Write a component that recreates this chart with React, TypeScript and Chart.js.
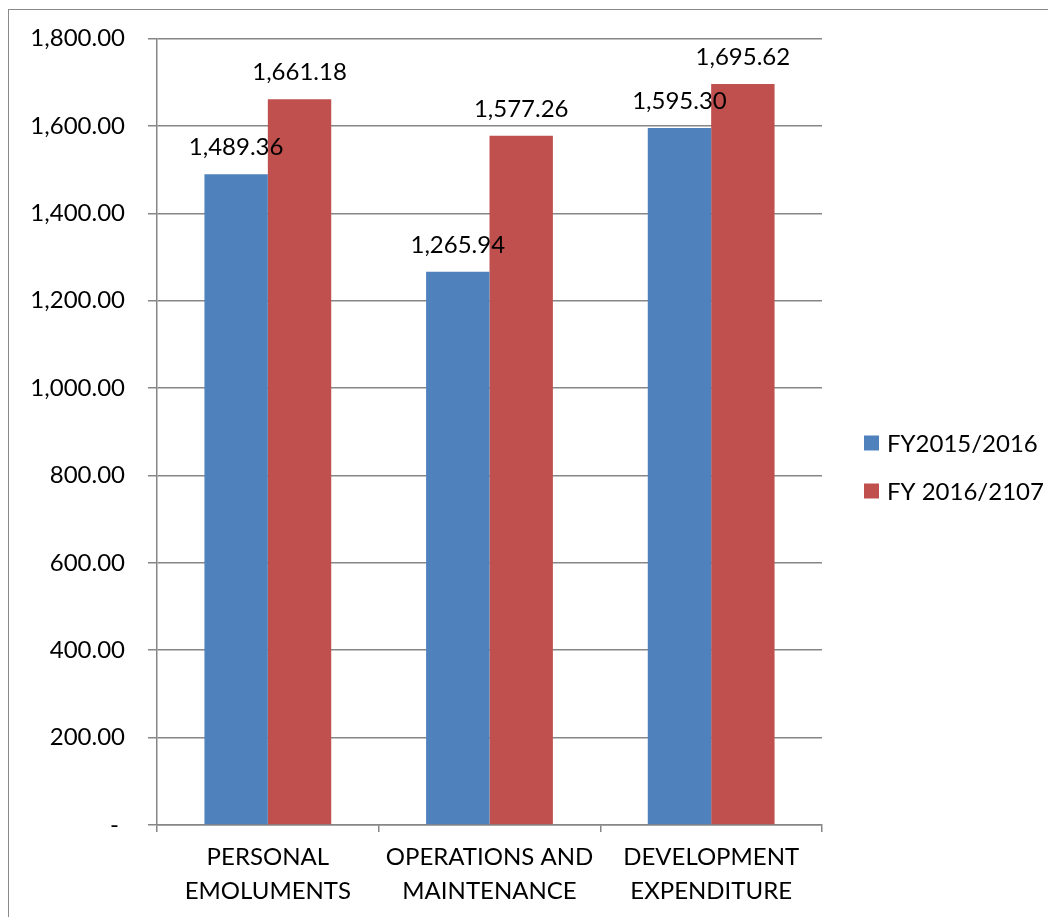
import React, { useEffect, useRef } from "react";
import { Chart, registerables } from "chart.js";

Chart.register(...registerables);

const categories: string[][] = [
  ["PERSONAL", "EMOLUMENTS"],
  ["OPERATIONS AND", "MAINTENANCE"],
  ["DEVELOPMENT", "EXPENDITURE"],
];
const seriesNames = ["FY2015/2016", "FY 2016/2107"];
const fy2015: number[] = [1489.36, 1265.94, 1595.3];
const fy2016: number[] = [1661.18, 1577.26, 1695.62];
const seriesColors = ["#4F81BD", "#C0504D"];
const yMin = 0;
const yMax = 1800;
const yStep = 200;

const FONT = "Lato, 'Open Sans', sans-serif";
const FONT_SIZE = 24;

const fmt = (v: number) =>
  v.toLocaleString("en-US", { minimumFractionDigits: 2, maximumFractionDigits: 2 });

const labelsPlugin = {
  id: "valueLabels",
  afterDatasetsDraw(chart: any) {
    const ctx = chart.ctx;
    ctx.save();
    ctx.font = `${FONT_SIZE}px ${FONT}`;
    ctx.fillStyle = "#000";
    ctx.textAlign = "center";
    ctx.textBaseline = "middle";
    chart.data.datasets.forEach((ds: any, i: number) => {
      const meta = chart.getDatasetMeta(i);
      meta.data.forEach((el: any, j: number) => {
        ctx.fillText(fmt(ds.data[j]), el.x, el.y - 27);
      });
    });
    ctx.restore();
  },
};

const legendPlugin = {
  id: "customLegend",
  afterDraw(chart: any) {
    const ctx = chart.ctx;
    ctx.save();
    ctx.font = `${FONT_SIZE}px ${FONT}`;
    ctx.textAlign = "left";
    ctx.textBaseline = "middle";
    const x0 = chart.chartArea.right + 42;
    const y0 = 433;
    chart.data.datasets.forEach((ds: any, i: number) => {
      const y = y0 + i * 48;
      ctx.fillStyle = ds.backgroundColor;
      ctx.fillRect(x0, y - 7.5, 15, 15);
      ctx.fillStyle = "#000";
      ctx.fillText(ds.label, x0 + 23, y + 1);
    });
    ctx.restore();
  },
};

export default function App() {
  const ref = useRef<HTMLCanvasElement>(null);
  useEffect(() => {
    if (!ref.current) return;
    const chart = new Chart(ref.current, {
      type: "bar",
      data: {
        labels: categories,
        datasets: [
          {
            label: seriesNames[0],
            data: fy2015,
            backgroundColor: seriesColors[0],
            borderWidth: 0,
            categoryPercentage: 0.572,
            barPercentage: 1,
          },
          {
            label: seriesNames[1],
            data: fy2016,
            backgroundColor: seriesColors[1],
            borderWidth: 0,
            categoryPercentage: 0.572,
            barPercentage: 1,
          },
        ],
      },
      options: {
        responsive: false,
        animation: false,
        layout: { padding: { top: 28.5, right: 226, left: 0, bottom: 0 } },
        plugins: {
          legend: { display: false },
          tooltip: { enabled: false },
        },
        scales: {
          x: {
            grid: {
              display: true,
              drawOnChartArea: false,
              drawTicks: true,
              tickLength: 7,
              color: "#868686",
              lineWidth: 1.5,
              offset: true,
            },
            border: { display: true, color: "#868686", width: 1.5 },
            ticks: {
              color: "#000",
              font: { family: FONT, size: FONT_SIZE, lineHeight: "34px" },
              padding: 8,
              maxRotation: 0,
              autoSkip: false,
            },
            afterFit: (s: any) => {
              s.height = 92;
            },
          },
          y: {
            min: yMin,
            max: yMax,
            ticks: {
              stepSize: yStep,
              color: "#000",
              font: { family: FONT, size: FONT_SIZE },
              padding: 23,
              callback: (v: any) => (Number(v) === 0 ? "- " : fmt(Number(v))),
            },
            grid: {
              color: "#868686",
              lineWidth: 1.5,
              tickLength: 9,
              drawTicks: true,
            },
            border: { display: true, color: "#868686", width: 1.5 },
            afterFit: (s: any) => {
              s.width = 148;
              s.paddingTop = 0;
              s.paddingBottom = 0;
            },
          },
        },
      },
      plugins: [labelsPlugin, legendPlugin],
    });
    return () => chart.destroy();
  }, []);
  return (
    <div
      style={{
        position: "absolute",
        left: 8,
        top: 9,
        width: 1040,
        height: 908,
        borderTop: "1.5px solid #8a8a8a",
        borderLeft: "1.5px solid #8a8a8a",
        background: "#fff",
        overflow: "hidden",
      }}
    >
      <canvas ref={ref} width={1039} height={907} style={{ display: "block" }} />
    </div>
  );
}
